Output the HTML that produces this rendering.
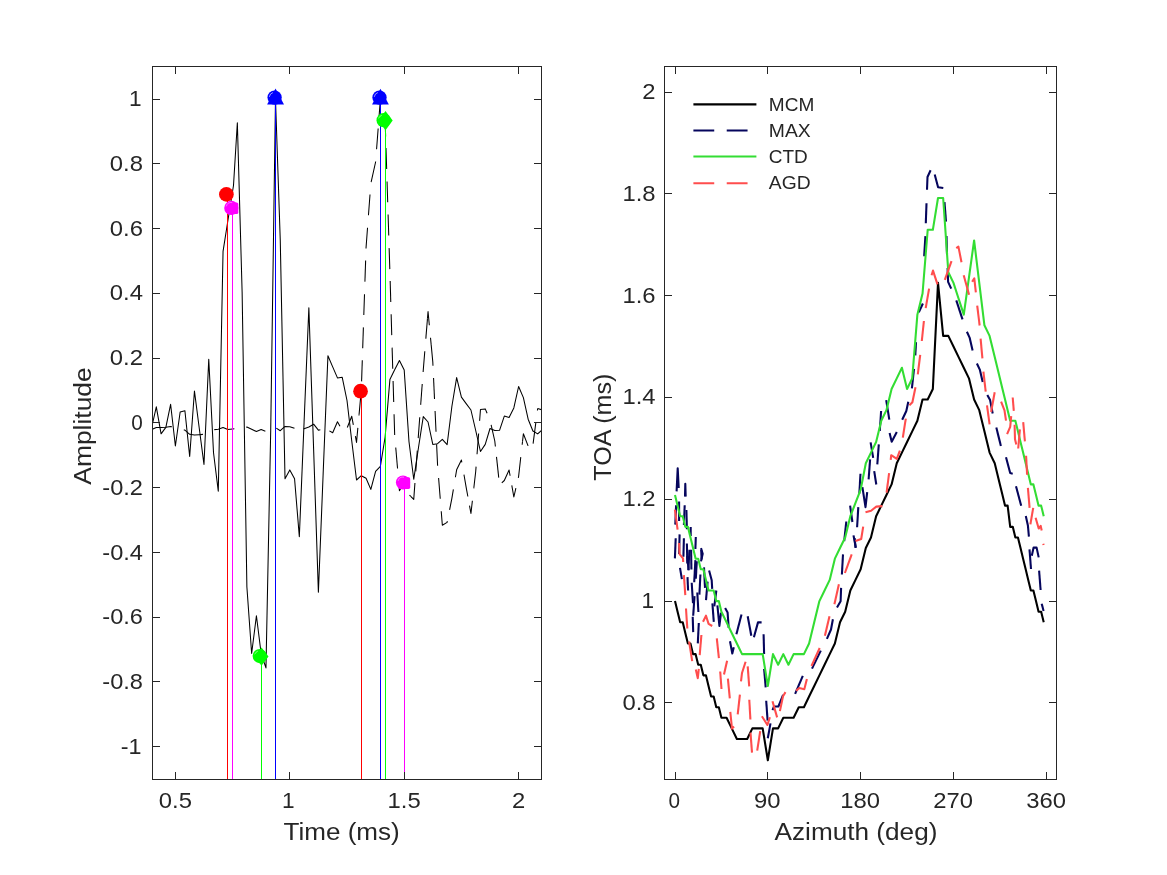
<!DOCTYPE html>
<html lang="en"><head><meta charset="utf-8"><title>TOA estimation figure</title>
<style>html,body{margin:0;padding:0;background:#fff}svg{display:block;will-change:transform}</style></head>
<body>
<svg width="1167" height="875" viewBox="0 0 1167 875" font-family="'Liberation Sans', sans-serif" fill="#262626">
<rect width="1167" height="875" fill="#fff"/>
<defs><clipPath id="cl"><rect x="152.5" y="66.5" width="389" height="713"/></clipPath><clipPath id="cr"><rect x="664.5" y="66.5" width="392" height="713"/></clipPath></defs>
<g clip-path="url(#cl)" fill="none" stroke="#000" stroke-width="1.05" stroke-linejoin="round">
<polyline points="151.54,427.8 156.31,406.85 161.08,433.84 165.85,427.4 170.61,404.3 175.38,446 180.15,412 184.91,410.7 189.68,456.55 194.45,391 199.22,428 203.98,464.4 208.75,359.2 213.52,452.8 218.28,491.2 223.05,251.3 227.82,221 233.49,185.5 237.35,122.8 242.12,292 246.89,587 251.65,653.5 256.42,615.8 261.19,654 265.96,667.9 270.72,430 275.49,99.4 280.26,240 285.02,478.8 289.79,469.9 294.56,478.8 299.33,536.7 304.09,422 308.86,307.8 313.63,449.5 318.39,592.3 323.16,473.5 327.93,355.8 332.69,366.9 337.46,377.9 342.23,377.3 347,400.5 351.76,441 356.53,480 361.3,475.7 366.06,478.3 370.83,489.4 375.6,471.4 380.37,466.3 385.13,437 389.9,379.6 394.67,369.8 399.43,360.5 404.2,370 408.97,441.5 413.74,479.3 418.5,447.5 423.27,416.6 428.04,422 432.8,444.4 437.57,443.7 442.34,439.3 447.11,444.7 451.87,406.5 456.64,377.6 461.41,397.1 466.17,403.6 470.94,410 475.71,430.5 480.47,451.5 485.24,444.4 490.01,428.5 494.78,430.5 499.54,430.3 504.31,416.1 509.08,417.4 513.84,407.9 518.61,386.5 523.38,397.6 528.15,419.2 532.91,431 537.68,433.9 542.45,429.5"/>
<g stroke-dasharray="20.83 12.5">
<polyline points="151.54,429.6 156.31,427.6 161.08,427.4 165.85,427.2 170.61,426.6 175.38,427 180.15,428.5 183.8,429.8"/>
<polyline points="183.8,429.8 184.91,430.2 189.68,434.3 194.45,435.1 199.22,434.7 203.98,434.3 208.75,432 213.52,429.7 214.3,429.63"/>
<polyline points="214.3,429.63 218.28,429.3 223.05,427.6 227.82,429.6 232.59,428.9 237.35,428.5 242.12,428 246.2,427.14"/>
<polyline points="246.2,427.14 246.89,427 251.65,429.3 256.42,431.5 261.19,429.6 265.96,431.4 270.72,430 275.49,427.6 276.3,428.13"/>
<polyline points="276.3,428.13 280.26,430.7 285.02,426.4 289.79,426.8 294.56,428.3 299.33,428.5 303.5,428.68"/>
<polyline points="303.5,428.68 304.09,428.7 308.86,427 313.63,424.2 318.39,430.2 323.16,429 327.93,430 329.4,430.86"/>
<polyline points="329.4,430.86 332.69,432.8 337.46,421.8 342.23,430 347,428.3 347.3,427.53"/>
<polyline points="347.3,427.53 351.76,416.3 355.4,436.21"/>
<polyline points="355.4,436.21 356.53,442.4 359.06,414.6"/>
<polyline points="359.06,414.6 361.3,390 361.6,381.1"/>
<polyline points="361.6,381.1 362.7,348.2"/>
<polyline points="362.7,348.2 363.8,315.1"/>
<polyline points="363.8,315.1 364.93,281.4"/>
<polyline points="364.93,281.4 366.03,248.5"/>
<polyline points="366.03,248.5 366.06,247.5 368.46,215.3"/>
<polyline points="368.46,215.3 370.83,183.5 371.19,181.9"/>
<polyline points="371.19,181.9 375.6,162 376.57,149.2"/>
<polyline points="376.57,149.2 379.11,115.9"/>
<polyline points="379.11,115.9 380.37,99.4 385.13,120.4 386,148.1"/>
<polyline points="386,148.1 387.05,181.4"/>
<polyline points="387.05,181.4 388.09,214.6"/>
<polyline points="388.09,214.6 389.15,248.3"/>
<polyline points="389.15,248.3 389.9,272 390.17,281.1"/>
<polyline points="390.17,281.1 391.14,314.3"/>
<polyline points="391.14,314.3 392.12,348"/>
<polyline points="392.12,348 393.09,381.1"/>
<polyline points="393.09,381.1 394.06,414.2"/>
<polyline points="394.06,414.2 394.67,435 395.76,447.8"/>
<polyline points="395.76,447.8 398.59,480.8"/>
<polyline points="398.59,480.8 399.43,490.7 404.2,482.4 408.97,494.5 410.7,496.28"/>
<polyline points="410.7,496.28 413.74,499.4 415.78,471.4"/>
<polyline points="415.78,471.4 418.2,438.1"/>
<polyline points="418.2,438.1 418.5,434 420.68,404.8"/>
<polyline points="420.68,404.8 423.12,372"/>
<polyline points="423.12,372 423.27,370 425.83,338.6"/>
<polyline points="425.83,338.6 427.47,318.5"/>
<polyline points="427.47,318.5 428.04,311.5 431.19,344.9"/>
<polyline points="431.19,344.9 432.8,362 433.55,378.1"/>
<polyline points="433.55,378.1 435.07,411"/>
<polyline points="435.07,411 436.64,444.9"/>
<polyline points="436.64,444.9 437.57,465 438.6,478"/>
<polyline points="438.6,478 441.23,511.3"/>
<polyline points="441.23,511.3 442.34,525.3 447.11,522.4 449.6,509.84"/>
<polyline points="449.6,509.84 451.87,498.4 455.4,477.24"/>
<polyline points="455.4,477.24 456.64,469.8 461.41,460 464.2,476"/>
<polyline points="464.2,476 466.17,487.3 469.5,505.58"/>
<polyline points="469.5,505.58 470.94,513.5 473.91,487.3"/>
<polyline points="473.91,487.3 475.71,471.5 477.04,454.2"/>
<polyline points="477.04,454.2 479.61,420.8"/>
<polyline points="479.61,420.8 480.47,409.5 485.24,408.9 490.01,420 491.4,426.13"/>
<polyline points="491.4,426.13 494.78,441 496.5,456.91"/>
<polyline points="496.5,456.91 499.54,485 501.8,482.87"/>
<polyline points="501.8,482.87 504.31,480.5 509.08,470 511.8,485.42"/>
<polyline points="511.8,485.42 513.84,497 518.3,477.84"/>
<polyline points="518.3,477.84 518.61,476.5 522.5,441.67"/>
<polyline points="522.5,441.67 523.38,433.8 528.15,446 532.91,445 533.1,443.57"/>
<polyline points="533.1,443.57 537.68,408.5"/>
<polyline points="537.68,408.5 542.45,410"/>
</g>
</g>
<line x1="227.5" y1="194.4" x2="227.5" y2="779.5" stroke="#ff0000" stroke-width="1"/>
<line x1="232.5" y1="207.8" x2="232.5" y2="779.5" stroke="#ff00ff" stroke-width="1"/>
<line x1="261.5" y1="656.4" x2="261.5" y2="779.5" stroke="#00ff00" stroke-width="1"/>
<line x1="275.5" y1="99.4" x2="275.5" y2="779.5" stroke="#0000ff" stroke-width="1"/>
<line x1="361.5" y1="391.4" x2="361.5" y2="779.5" stroke="#ff0000" stroke-width="1"/>
<line x1="380.5" y1="98.5" x2="380.5" y2="779.5" stroke="#0000ff" stroke-width="1"/>
<line x1="385.5" y1="120.4" x2="385.5" y2="779.5" stroke="#00ff00" stroke-width="1"/>
<line x1="404.5" y1="482.5" x2="404.5" y2="779.5" stroke="#ff00ff" stroke-width="1"/>
<circle cx="226.4" cy="194.4" r="7.35" fill="#ff0000"/>
<circle cx="360.55" cy="391.2" r="7.35" fill="#ff0000"/>
<circle cx="231.3" cy="207.9" r="7.1" fill="#ff00ff"/>
<rect x="226.7" y="202.5" width="11.6" height="11.6" rx="1.6" fill="#ff00ff"/>
<path d="M226.28 206.35A5.2 5.2 0 0 1 232.2 202.58" fill="none" stroke="#fff" stroke-width="0.7" stroke-opacity="0.6"/>
<circle cx="403" cy="482.5" r="7.1" fill="#ff00ff"/>
<rect x="398.6" y="477.3" width="11.6" height="11.6" rx="1.6" fill="#ff00ff"/>
<path d="M398.08 480.95A5.2 5.2 0 0 1 404 477.18" fill="none" stroke="#fff" stroke-width="0.7" stroke-opacity="0.6"/>
<circle cx="274.6" cy="97.6" r="7.15" fill="#0000ff"/>
<polygon points="275.55,88.5 284,104.4 267.1,104.4" fill="#0000ff"/>
<path d="M269.35 96.86A5.3 5.3 0 0 1 272.96 92.56" fill="none" stroke="#fff" stroke-width="0.7" stroke-opacity="0.85"/>
<circle cx="379.5" cy="97.6" r="7.15" fill="#0000ff"/>
<polygon points="380.45,88.8 388.85,104.5 372.05,104.5" fill="#0000ff"/>
<path d="M374.25 96.86A5.3 5.3 0 0 1 377.86 92.56" fill="none" stroke="#fff" stroke-width="0.7" stroke-opacity="0.85"/>
<circle cx="259.7" cy="656.1" r="7.1" fill="#00ff00"/>
<polygon points="261.5,647.4 268.5,656.6 261.5,665.8 254.5,656.6" fill="#00ff00"/>
<path d="M254.72 654.29A5.3 5.3 0 0 1 257.89 651.12" fill="none" stroke="#fff" stroke-width="0.7" stroke-opacity="0.7"/>
<circle cx="383.6" cy="120.2" r="7.1" fill="#00ff00"/>
<polygon points="385.5,111.05 392.7,120.6 385.5,130.15 378.3,120.6" fill="#00ff00"/>
<path d="M378.62 118.39A5.3 5.3 0 0 1 381.79 115.22" fill="none" stroke="#fff" stroke-width="0.7" stroke-opacity="0.7"/>
<g clip-path="url(#cr)" fill="none" stroke-width="2.08" stroke-linejoin="round">
<polyline stroke="#000" points="675,601.1 677.58,611.71 680.16,622.32 682.74,622.32 685.31,632.92 687.89,643.53 690.47,643.53 693.05,654.14 695.63,654.14 698.21,664.75 700.78,664.75 703.36,675.36 705.94,675.36 708.52,685.96 711.1,696.57 713.68,696.57 716.26,707.18 718.83,707.18 721.41,717.79 726.57,717.79 731.73,728.4 736.88,739 742.04,739 747.2,739 752.36,728.4 757.51,728.4 762.67,728.4 767.83,760.22 772.98,728.4 778.14,728.4 783.3,717.79 788.45,717.79 793.61,717.79 798.77,707.18 803.92,707.18 809.08,696.57 814.24,685.96 819.4,675.36 824.55,664.75 829.71,654.14 834.87,643.53 840.02,622.32 845.18,611.71 850.34,590.49 855.5,579.88 860.65,569.28 865.81,548.06 870.97,537.45 876.12,516.24 881.28,505.63 886.44,495.02 891.59,484.41 896.75,463.2 901.91,452.59 907.07,441.98 912.22,431.37 917.38,420.76 922.54,399.55 927.69,399.55 932.85,388.94 938.01,282.86 943.16,335.9 948.32,335.9 953.48,346.51 958.63,357.12 963.79,367.72 968.95,378.33 974.11,399.55 979.26,410.16 984.42,431.37 989.58,452.59 994.73,463.2 999.89,484.41 1002.47,495.02 1005.05,505.63 1007.63,505.63 1010.21,526.84 1012.78,526.84 1015.36,537.45 1017.94,537.45 1020.52,548.06 1023.1,558.67 1025.68,569.28 1028.25,579.88 1030.83,590.49 1033.41,590.49 1035.99,601.1 1038.57,611.71 1041.15,611.71 1043.73,622.32"/>
<g stroke="#05055c">
<polyline points="676.6,491.4 677.7,468.3 678.7,488"/>
<polyline points="685,496.6 685.3,483.8 685.7,496.6"/>
<polyline points="676.1,505.3 675.3,524.6"/>
<polyline points="679.1,501.4 679.1,521.1"/>
<polyline points="684.7,505.3 683.9,525"/>
<polyline points="686.4,510 686.9,529.3"/>
<polyline points="690.7,527.1 690.7,536.1"/>
<polyline points="675.7,538.3 674.9,558.4"/>
<polyline points="679.6,534.4 679.1,554"/>
<polyline points="683.9,538.3 683.4,556.7"/>
<polyline points="686.9,543.4 687.3,563.6"/>
<polyline points="689.4,549.8 688.4,570.4"/>
<polyline points="691.1,549.8 691.4,569.5"/>
<polyline points="687.2,556 688.6,570"/>
<polyline points="695.8,537 695.4,549"/>
<polyline points="701,548.1 702.7,553.7 701,561.4"/>
<polyline points="701.2,550 701.6,559.5"/>
<polyline points="695.4,560.1 694.2,582.2"/>
<polyline points="696.8,561.2 695.8,578.7"/>
<polyline points="680,567.8 681.9,579.2"/>
<polyline points="704,567.4 705,587.9"/>
<polyline points="687.5,577.1 688.1,590.5"/>
<polyline points="691.7,582.8 693,603.3"/>
<polyline points="694.5,596.1 693.2,615.7"/>
<polyline points="692.7,616.7 693.2,632.1"/>
<polyline points="700.4,574.5 699.4,594.6"/>
<polyline points="697.3,592.5 698.4,612"/>
<polyline points="698.8,623 697.8,643.4"/>
<polyline points="709.1,570.4 711.7,580.2 712.2,588.9"/>
<polyline points="707.6,581.7 706,600.2"/>
<polyline points="716.3,590.5 714.3,606.4"/>
<polyline points="712.4,603.3 713.8,621.8"/>
<polyline points="717.4,605.4 719.4,626 721,612.6"/>
<polyline points="725.1,608 727.6,612.6 728.7,628"/>
<polyline points="741.5,614.6 736.4,634.2"/>
<polyline points="747.7,616.2 751.3,635.7"/>
<polyline points="753.9,637.3 758,622.4 761.6,622.4"/>
<polyline points="763.6,634.2 764.1,654"/>
<polyline points="730,641.2 732.3,653.5 733.8,647.3"/>
<polyline points="764.1,668.9 765.7,687.4"/>
<polyline points="766.2,700.8 767.6,720.6"/>
<polyline points="770.5,723.4 767.8,738.3"/>
<polyline points="772.5,710.1 774,706.5 778.4,706.5 783.1,694.9"/>
<polyline points="802.8,675.8 795.1,693.8"/>
<polyline points="820.8,650.6 812,668.6"/>
<polyline points="832.9,619.3 831,629.5 826.9,638.8"/>
<polyline points="841.1,587.9 840.6,601.2 837,607.4"/>
<polyline points="843,554.4 841.9,574.5"/>
<polyline points="846.3,521.5 844.2,541.1"/>
<polyline points="853.5,535.4 855.8,547.8"/>
<polyline points="854.6,538 855.6,547.8"/>
<polyline points="858.3,507.1 857.1,527.2"/>
<polyline points="850.1,505.6 852.4,522"/>
<polyline points="870.6,442.3 873.2,457.8"/>
<polyline points="878.8,444.4 877.3,464.4"/>
<polyline points="870.1,459.3 868.6,479.4"/>
<polyline points="874.2,471.1 876.3,484.5"/>
<polyline points="860.5,473.7 859.3,493.8"/>
<polyline points="862.4,487.1 865.5,507.1 867.2,492.2"/>
<polyline points="889.6,433.1 891.7,441.8 896.8,432.1"/>
<polyline points="881.1,411 879.8,431"/>
<polyline points="886.2,400.2 889.3,419.7"/>
<polyline points="908.3,401.7 906.3,411 902.2,419.7"/>
<polyline points="914,368.8 911.9,388.3"/>
<polyline points="916,342.1 915.3,355.4"/>
<polyline points="922.9,303.5 918.8,312.2"/>
<polyline points="925.4,236.1 924.2,256.2"/>
<polyline points="926.5,203.2 925.8,223.2"/>
<polyline points="930.6,170.3 927.5,177 927,189.8"/>
<polyline points="934.7,174.4 938.1,187.2 943.3,188"/>
<polyline points="944.5,202.2 946,221.7"/>
<polyline points="946.5,236 947,254.1"/>
<polyline points="947.6,268 948.1,281.9 951.2,288.6"/>
<polyline points="956.3,300.4 962.5,319.4"/>
<polyline points="966.9,331.7 969.6,337.6 972.6,350.5"/>
<polyline points="976.9,363.5 979.8,369.6 982.7,382"/>
<polyline points="987.3,394.9 990.1,400.1 992.7,413.5"/>
<polyline points="996.3,427.4 1000.9,445.9"/>
<polyline points="1006,457.2 1010.2,473.1 1012.7,473.7"/>
<polyline points="1016,486.3 1021.2,505.8"/>
<polyline points="1025.8,516.1 1027.9,525.4 1028.9,536.7"/>
<polyline points="1029.5,549.3 1031,569"/>
<polyline points="1031.8,555.7 1033.6,547.6 1036.6,547.6 1038.7,557.4"/>
<polyline points="1039.1,570.7 1040.6,590"/>
<polyline points="1041.7,603.7 1043.6,611"/>
</g>
<polyline stroke="#33dd33" points="675,495.02 677.58,505.63 680.16,516.24 682.74,516.24 685.31,526.84 687.89,526.84 690.47,537.45 693.05,548.06 695.63,558.67 698.21,558.67 700.78,569.28 703.36,569.28 705.94,579.88 708.52,590.49 711.1,590.49 713.68,590.49 716.26,601.1 718.83,601.1 721.41,611.71 726.57,622.32 731.73,632.92 736.88,643.53 742.04,654.14 747.2,654.14 752.36,654.14 757.51,654.14 762.67,654.14 767.83,685.96 772.98,654.14 778.14,664.75 783.3,654.14 788.45,664.75 793.61,654.14 798.77,654.14 803.92,654.14 809.08,643.53 814.24,622.32 819.4,601.1 824.55,590.49 829.71,579.88 834.87,558.67 840.02,548.06 845.18,537.45 850.34,516.24 855.5,502.98 860.65,489.72 865.81,463.2 870.97,452.59 876.12,441.98 881.28,420.76 886.44,410.16 891.59,388.94 896.75,378.33 901.91,367.72 907.07,388.94 912.22,378.33 917.38,314.68 922.54,293.47 927.69,229.82 932.85,229.82 938.01,198 943.16,198 948.32,272.25 953.48,282.86 958.63,298.77 963.79,314.68 968.95,277.56 974.11,240.43 979.26,282.86 984.42,325.29 989.58,335.9 994.73,357.12 999.89,378.33 1002.47,388.94 1005.05,399.55 1007.63,410.16 1010.21,420.76 1012.78,420.76 1015.36,420.76 1017.94,431.37 1020.52,441.98 1023.1,452.59 1025.68,463.2 1028.25,473.8 1030.83,484.41 1033.41,484.41 1035.99,495.02 1038.57,505.63 1041.15,505.63 1043.73,516.24"/>
<g stroke="#ff4d4d">
<polyline points="674.9,509.6 677.6,529.7"/>
<polyline points="679.1,543 679.6,554.1 683,558.4 683.2,562"/>
<polyline points="683.9,575.1 685.3,595.1"/>
<polyline points="686,608.5 687.3,628.5"/>
<polyline points="703,621.8 706,615.7 708.6,623.9 712.2,626"/>
<polyline points="701.4,635 699.7,655.1"/>
<polyline points="689.1,641.5 692.2,661.2"/>
<polyline points="695.8,669.4 697.8,678.2 698.8,668.9"/>
<polyline points="716.8,638.4 718.9,658.1"/>
<polyline points="727.1,660.7 724,674.6"/>
<polyline points="720.2,671.5 721.5,689"/>
<polyline points="727.9,678.7 729.8,698.4"/>
<polyline points="745.6,661.7 742,673 741,681.3"/>
<polyline points="747.7,666.4 749.2,686.4"/>
<polyline points="739.9,694.6 737.7,714.4"/>
<polyline points="749.3,699.8 750.4,719.5"/>
<polyline points="730.3,711.8 732,728.6 734,726.5"/>
<polyline points="785.5,692.1 783,696.2 779.9,711.1"/>
<polyline points="772.5,701.3 777.1,717.4"/>
<polyline points="761.9,716.2 767.4,725 769.9,717.2"/>
<polyline points="750.5,732.7 752,752.7"/>
<polyline points="760.2,731.1 757.2,750.7"/>
<polyline points="796.1,690.8 799.2,688.1 804.3,689.2 806.9,678.9"/>
<polyline points="819.7,648 811.5,666"/>
<polyline points="829.5,616.2 824.9,635.7"/>
<polyline points="838.9,584.3 834.4,604.3"/>
<polyline points="851.7,554.4 844.9,573"/>
<polyline points="863.2,526.7 861.2,539 855.5,541.1"/>
<polyline points="865.5,512.3 871.1,510.7 876.3,506.6 882.4,506.1"/>
<polyline points="889.1,473.2 886.6,492.7"/>
<polyline points="890.7,459.8 891.2,455.2 896.8,458.8 899.9,450.6"/>
<polyline points="905.8,418.7 902.8,437.7"/>
<polyline points="915.5,387.3 912.4,402.2 909.4,405.3"/>
<polyline points="920.2,354.9 917.8,374.4"/>
<polyline points="923.9,321 921.8,341"/>
<polyline points="929.1,288.6 925.7,308.1"/>
<polyline points="931.6,275.2 933,270.6 937.5,284.4"/>
<polyline points="951.5,261.1 944.8,279.9"/>
<polyline points="956.3,248.1 958.4,246.6 961.5,262.2"/>
<polyline points="963.7,275.3 969.1,294.8"/>
<polyline points="972.1,281.8 974.3,278.4 975.85,292.3"/>
<polyline points="977.2,305.6 979.65,325.5"/>
<polyline points="980.6,338.6 982.4,358.3"/>
<polyline points="983.4,371.7 985.7,391.7"/>
<polyline points="994.7,392.3 991.1,412"/>
<polyline points="987,405.3 989.6,424.3"/>
<polyline points="1001.1,401.7 1004.5,410.4 1006,420.7"/>
<polyline points="1012.7,397.5 1013.8,410.9"/>
<polyline points="1011.2,416.1 1010.2,426.9 1007.1,434.1"/>
<polyline points="1014.6,424.8 1015,439.2 1016.3,444.4"/>
<polyline points="1019.9,429.4 1018.2,448.5"/>
<polyline points="1023.2,422.2 1024.9,441.3"/>
<polyline points="1026.1,455.7 1027.1,474.7"/>
<polyline points="1027.9,487.9 1029.6,507.9"/>
<polyline points="1033.2,507.9 1030.4,524.4"/>
<polyline points="1035.6,517.7 1038.7,528.5 1040.7,525.9 1041.7,530.5"/>
<polyline points="1043.3,543.7 1043.6,545"/>
</g>
</g>
<line x1="693.4" y1="104.4" x2="756.4" y2="104.4" stroke="#000" stroke-width="2.08"/>
<line x1="693.4" y1="130.5" x2="756.4" y2="130.5" stroke="#05055c" stroke-width="2.08" stroke-dasharray="20.83 12.5"/>
<line x1="693.4" y1="156.5" x2="756.4" y2="156.5" stroke="#33dd33" stroke-width="2.08"/>
<line x1="693.4" y1="183.2" x2="756.4" y2="183.2" stroke="#ff4d4d" stroke-width="2.08" stroke-dasharray="20.83 12.5"/>
<text x="768.8" y="110.9" font-size="19.09" text-anchor="start" textLength="45.45" lengthAdjust="spacingAndGlyphs">MCM</text>
<text x="768.8" y="136.97" font-size="19.09" text-anchor="start" textLength="41.85" lengthAdjust="spacingAndGlyphs">MAX</text>
<text x="768.8" y="163.04" font-size="19.09" text-anchor="start" textLength="38.98" lengthAdjust="spacingAndGlyphs">CTD</text>
<text x="768.8" y="189.11" font-size="19.09" text-anchor="start" textLength="41.79" lengthAdjust="spacingAndGlyphs">AGD</text>
<g stroke="#262626" stroke-width="1" fill="none" shape-rendering="crispEdges">
<rect x="152.5" y="66.5" width="389" height="713"/>
<rect x="664.5" y="66.5" width="392" height="713"/>
<path d="M175.5 779.5v-7.2 M175.5 66.5v7.2"/>
<path d="M289.5 779.5v-7.2 M289.5 66.5v7.2"/>
<path d="M404.5 779.5v-7.2 M404.5 66.5v7.2"/>
<path d="M518.5 779.5v-7.2 M518.5 66.5v7.2"/>
<path d="M152.5 99.5h7.2 M541.5 99.5h-7.2"/>
<path d="M152.5 163.5h7.2 M541.5 163.5h-7.2"/>
<path d="M152.5 228.5h7.2 M541.5 228.5h-7.2"/>
<path d="M152.5 293.5h7.2 M541.5 293.5h-7.2"/>
<path d="M152.5 358.5h7.2 M541.5 358.5h-7.2"/>
<path d="M152.5 422.5h7.2 M541.5 422.5h-7.2"/>
<path d="M152.5 487.5h7.2 M541.5 487.5h-7.2"/>
<path d="M152.5 552.5h7.2 M541.5 552.5h-7.2"/>
<path d="M152.5 617.5h7.2 M541.5 617.5h-7.2"/>
<path d="M152.5 681.5h7.2 M541.5 681.5h-7.2"/>
<path d="M152.5 746.5h7.2 M541.5 746.5h-7.2"/>
<path d="M675.5 779.5v-7.2 M675.5 66.5v7.2"/>
<path d="M767.5 779.5v-7.2 M767.5 66.5v7.2"/>
<path d="M860.5 779.5v-7.2 M860.5 66.5v7.2"/>
<path d="M953.5 779.5v-7.2 M953.5 66.5v7.2"/>
<path d="M1046.5 779.5v-7.2 M1046.5 66.5v7.2"/>
<path d="M664.5 92.5h7.2 M1056.5 92.5h-7.2"/>
<path d="M664.5 193.5h7.2 M1056.5 193.5h-7.2"/>
<path d="M664.5 295.5h7.2 M1056.5 295.5h-7.2"/>
<path d="M664.5 397.5h7.2 M1056.5 397.5h-7.2"/>
<path d="M664.5 499.5h7.2 M1056.5 499.5h-7.2"/>
<path d="M664.5 601.5h7.2 M1056.5 601.5h-7.2"/>
<path d="M664.5 702.5h7.2 M1056.5 702.5h-7.2"/>
</g>
<text x="175.38" y="807.7" font-size="21.21" text-anchor="middle" textLength="33.13" lengthAdjust="spacingAndGlyphs">0.5</text>
<text x="288.29" y="807.7" font-size="21.21" text-anchor="middle" textLength="12.59" lengthAdjust="spacingAndGlyphs">1</text>
<text x="404.2" y="807.7" font-size="21.21" text-anchor="middle" textLength="33.13" lengthAdjust="spacingAndGlyphs">1.5</text>
<text x="518.61" y="807.7" font-size="21.21" text-anchor="middle" textLength="13.25" lengthAdjust="spacingAndGlyphs">2</text>
<text x="141.5" y="106.2" font-size="21.21" text-anchor="end" textLength="12.59" lengthAdjust="spacingAndGlyphs">1</text>
<text x="143" y="170.96" font-size="21.21" text-anchor="end" textLength="33.13" lengthAdjust="spacingAndGlyphs">0.8</text>
<text x="143" y="235.72" font-size="21.21" text-anchor="end" textLength="33.13" lengthAdjust="spacingAndGlyphs">0.6</text>
<text x="143" y="300.48" font-size="21.21" text-anchor="end" textLength="33.13" lengthAdjust="spacingAndGlyphs">0.4</text>
<text x="143" y="365.24" font-size="21.21" text-anchor="end" textLength="33.13" lengthAdjust="spacingAndGlyphs">0.2</text>
<text x="142.7" y="430" font-size="21.21" text-anchor="end" textLength="11.53" lengthAdjust="spacingAndGlyphs">0</text>
<text x="143" y="494.76" font-size="21.21" text-anchor="end" textLength="40.64" lengthAdjust="spacingAndGlyphs">-0.2</text>
<text x="143" y="559.52" font-size="21.21" text-anchor="end" textLength="40.64" lengthAdjust="spacingAndGlyphs">-0.4</text>
<text x="143" y="624.28" font-size="21.21" text-anchor="end" textLength="40.64" lengthAdjust="spacingAndGlyphs">-0.6</text>
<text x="143" y="689.04" font-size="21.21" text-anchor="end" textLength="40.64" lengthAdjust="spacingAndGlyphs">-0.8</text>
<text x="141.5" y="753.8" font-size="21.21" text-anchor="end" textLength="20.77" lengthAdjust="spacingAndGlyphs">-1</text>
<text x="674.3" y="807.7" font-size="21.21" text-anchor="middle" textLength="11.53" lengthAdjust="spacingAndGlyphs">0</text>
<text x="767.2" y="807.7" font-size="21.21" text-anchor="middle" textLength="26.51" lengthAdjust="spacingAndGlyphs">90</text>
<text x="860.2" y="807.7" font-size="21.21" text-anchor="middle" textLength="39.76" lengthAdjust="spacingAndGlyphs">180</text>
<text x="953.2" y="807.7" font-size="21.21" text-anchor="middle" textLength="39.76" lengthAdjust="spacingAndGlyphs">270</text>
<text x="1046.2" y="807.7" font-size="21.21" text-anchor="middle" textLength="39.76" lengthAdjust="spacingAndGlyphs">360</text>
<text x="655.6" y="99.2" font-size="21.21" text-anchor="end" textLength="13.25" lengthAdjust="spacingAndGlyphs">2</text>
<text x="655.6" y="200.96" font-size="21.21" text-anchor="end" textLength="33.13" lengthAdjust="spacingAndGlyphs">1.8</text>
<text x="655.6" y="302.72" font-size="21.21" text-anchor="end" textLength="33.13" lengthAdjust="spacingAndGlyphs">1.6</text>
<text x="655.6" y="404.48" font-size="21.21" text-anchor="end" textLength="33.13" lengthAdjust="spacingAndGlyphs">1.4</text>
<text x="655.6" y="506.24" font-size="21.21" text-anchor="end" textLength="33.13" lengthAdjust="spacingAndGlyphs">1.2</text>
<text x="654.1" y="608" font-size="21.21" text-anchor="end" textLength="12.59" lengthAdjust="spacingAndGlyphs">1</text>
<text x="655.6" y="709.76" font-size="21.21" text-anchor="end" textLength="33.13" lengthAdjust="spacingAndGlyphs">0.8</text>
<text x="341.6" y="840" font-size="23.34" text-anchor="middle" textLength="116.23" lengthAdjust="spacingAndGlyphs">Time (ms)</text>
<text x="856" y="840" font-size="23.34" text-anchor="middle" textLength="162.81" lengthAdjust="spacingAndGlyphs">Azimuth (deg)</text>
<text x="90.9" y="426" font-size="23.34" text-anchor="middle" textLength="117.45" lengthAdjust="spacingAndGlyphs" transform="rotate(-90 90.9 426)">Amplitude</text>
<text x="610.9" y="427.1" font-size="23.34" text-anchor="middle" textLength="107.16" lengthAdjust="spacingAndGlyphs" transform="rotate(-90 610.9 427.1)">TOA (ms)</text>
</svg>
</body></html>
